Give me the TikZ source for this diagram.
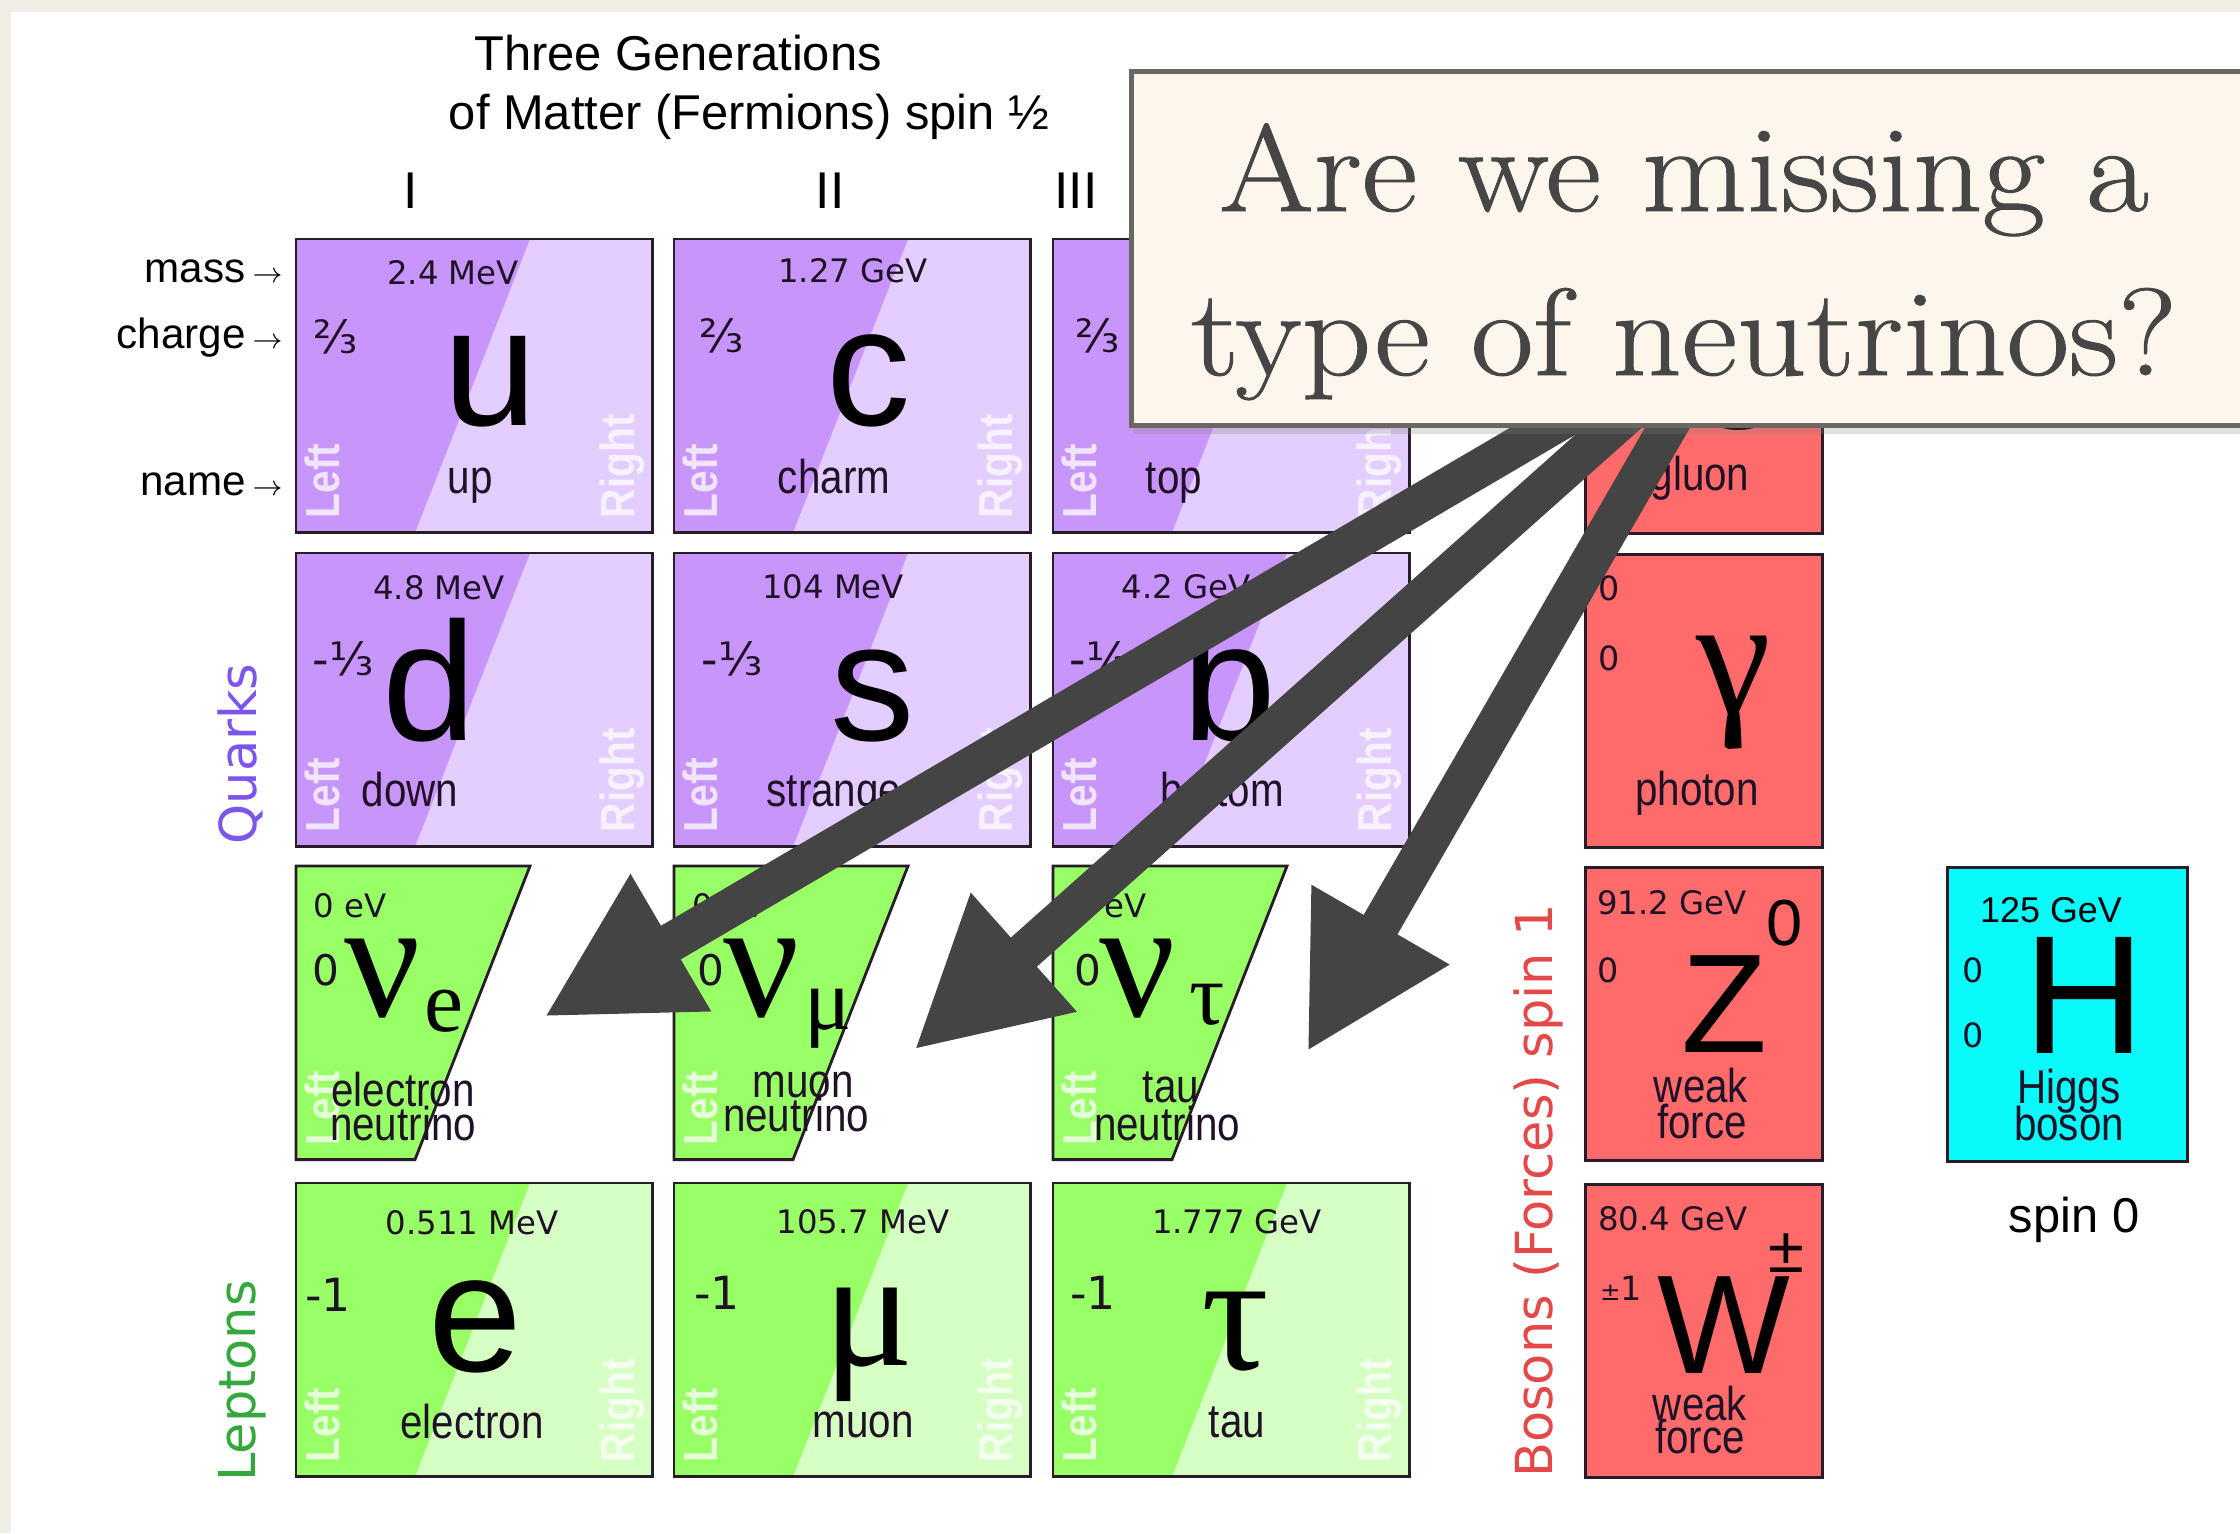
\documentclass[tikz,border=0pt]{standalone}
\usepackage{fontspec}
\setsansfont{Liberation Sans}
\newfontfamily\narrowfont{Liberation Sans}[FakeStretch=0.85]
\newfontfamily\dvfont{DejaVu Sans}
\newfontfamily\greekfont{Liberation Serif}
\newfontfamily\askfont{Latin Modern Roman}[FakeStretch=1.1, FakeBold=0.8]
\usetikzlibrary{arrows.meta,calc,shadows}

\definecolor{pagebg}{RGB}{241,237,231}
\definecolor{quarkD}{RGB}{200,150,250}
\definecolor{quarkL}{RGB}{228,205,255}
\definecolor{leptonD}{RGB}{153,255,102}
\definecolor{leptonL}{RGB}{213,255,195}
\definecolor{bosonF}{RGB}{255,107,107}
\definecolor{higgsF}{RGB}{8,250,250}
\definecolor{cellline}{RGB}{40,28,40}
\definecolor{ink}{RGB}{32,18,38}
\definecolor{quarkT}{RGB}{124,84,238}
\definecolor{leptonT}{RGB}{52,168,60}
\definecolor{bosonT}{RGB}{228,72,72}
\definecolor{arrowgray}{RGB}{68,68,68}
\definecolor{calloutF}{RGB}{252,246,237}
\definecolor{calloutD}{RGB}{106,102,97}
\definecolor{calloutT}{RGB}{70,70,70}

\pgfdeclarelayer{arrowlayer}
\pgfdeclarelayer{toplayer}
\pgfsetlayers{main,arrowlayer,toplayer}

\newcommand{\fsz}[1]{\fontsize{#1}{#1}\selectfont}

\tikzset{
  cellbox/.style={inner sep=0pt, minimum width=3.55cm, minimum height=2.92cm, anchor=north west},
  bosbox/.style={draw=cellline, line width=0.8pt, fill=bosonF, inner sep=0pt,
    minimum width=2.37cm, minimum height=2.93cm, anchor=north west},
  frame/.style={draw=cellline, line width=0.8pt},
  head/.style={text=black, font=\sffamily\fsz{13.9pt}, anchor=base},
  gen/.style={text=black, font=\sffamily\fsz{14.7pt}, anchor=base},
  side/.style={text=black, font=\sffamily\fsz{12pt}, anchor=base east},
  mass/.style={text=ink, font=\dvfont\fsz{9.2pt}},
  charge/.style={text=ink, font=\dvfont\fsz{13pt}},
  zero/.style={text=ink, font=\dvfont\fsz{9.5pt}},
  sym/.style={text=black, font=\sffamily\fsz{48pt}, anchor=base},
  bigsym/.style={text=black, font=\sffamily\fsz{40pt}, anchor=base},
  supsym/.style={text=black, font=\sffamily\fsz{18.5pt}, anchor=base},
  greek/.style={text=black, font=\greekfont\fsz{48pt}, anchor=base},
  gsub/.style={text=black, font=\greekfont\fsz{25pt}, anchor=base},
  pname/.style={text=ink, font=\narrowfont\fsz{13.5pt}, anchor=base},
  hand/.style={text=white, opacity=0.75, font=\narrowfont\bfseries\fsz{13.6pt}, rotate=90, anchor=west},
  grouplab/.style={font=\dvfont\fsz{14.5pt}, rotate=90},
  bigarrow/.style={draw=arrowgray, line width=0.39cm, -{Triangle[length=1.47cm,width=1.48cm]}},
  callout/.style={fill=calloutF, draw=calloutD, line width=1.4pt, inner sep=0pt, anchor=north west,
    minimum width=11.5cm, minimum height=3.54cm,
    drop shadow={opacity=0.25, shadow xshift=0.5pt, shadow yshift=-2.5pt}},
  asktext/.style={text=calloutT, font=\askfont\fsz{35.2pt}, anchor=base},
}

% two-tone fermion cell: name, top left, dark, light
\newcommand{\twotone}[4]{%
  \node[cellbox, fill=#4] (#1) at (#2) {};
  \fill[#3] (#1.north west) -- ++(234,0) -- ($(#1.south west)+(119,0)$) -- (#1.south west) -- cycle;
  \draw[frame] (#1.north west) rectangle (#1.south east);
  \node[hand] (#1-l) at ($(#1.south west)+(26,-2)$) {Left};
  \node[hand] (#1-r) at ($(#1.south east)+(-30,-2)$) {Right};
}
% neutrino cell: left handed part only
\newcommand{\nucell}[2]{%
  \node[cellbox] (#1) at (#2) {};
  \filldraw[frame, fill=leptonD] (#1.north west) -- ++(234,0) -- ($(#1.south west)+(119,0)$) -- (#1.south west) -- cycle;
  \node[hand] (#1-l) at ($(#1.south west)+(26,-2)$) {Left};
}

\begin{document}
\begin{tikzpicture}[x=0.01cm, y=-0.01cm]
    % Page
    \useasboundingbox (0,0) rectangle (2240,1533);
    \fill[pagebg] (0,0) rectangle (2240,1533);
    \fill[white] (11,12) rectangle (2240,1533);
    % Header
    \node[head] (title1) at (678,70) {Three Generations};
    \node[head] (title2) at (749,129) {of Matter (Fermions) spin ½};
    \node[gen] (gen1) at (411,208) {I};
    \node[gen] (gen2) at (830,208) {II};
    \node[gen] (gen3) at (1076,208) {III};
    \node[side] (lab-mass) at (295,282) {mass\,{\fsz{8pt}$\rightarrow$}};
    \node[side] (lab-charge) at (295,348) {charge\,{\fsz{8pt}$\rightarrow$}};
    \node[side] (lab-name) at (295,495) {name\,{\fsz{8pt}$\rightarrow$}};
    % Group labels
    \node[grouplab, text=quarkT] (quarks) at (240,754) {Quarks};
    \node[grouplab, text=leptonT] (leptons) at (242,1381) {Leptons};
    \node[grouplab, text=bosonT] (bosons) at (1538,1191) {Bosons (Forces) spin 1};
    \node[head] (spin0) at (2074,1232) {spin 0};

    % Quarks, row 1
    \twotone{up}{296,239}{quarkD}{quarkL}
    \node[mass] (up-m) at (453,273) {2.4 MeV};
    \node[charge] (up-q) at (336,337) {⅔};
    \node[sym] (up-s) at (490,425) {u};
    \node[pname] (up-n) at (470,493) {up};
    \twotone{charm}{674,239}{quarkD}{quarkL}
    \node[mass] (charm-m) at (853,271) {1.27 GeV};
    \node[charge] (charm-q) at (722,336) {⅔};
    \node[sym] (charm-s) at (869,425) {c};
    \node[pname] (charm-n) at (834,493) {charm};
    \twotone{top}{1053,239}{quarkD}{quarkL}
    \node[charge] (top-q) at (1098,336) {⅔};
    \node[pname] (top-n) at (1174,493) {top};
    % Quarks, row 2
    \twotone{down}{296,553}{quarkD}{quarkL}
    \node[mass] (down-m) at (439,588) {4.8 MeV};
    \node[charge] (down-q) at (343,659) {-⅓};
    \node[sym] (down-s) at (429,740) {d};
    \node[pname] (down-n) at (410,806) {down};
    \twotone{strange}{674,553}{quarkD}{quarkL}
    \node[mass] (strange-m) at (833,587) {104 MeV};
    \node[charge] (strange-q) at (732,659) {-⅓};
    \node[sym] (strange-s) at (873,740) {s};
    \node[pname] (strange-n) at (834,806) {strange};
    \twotone{bottom}{1053,553}{quarkD}{quarkL}
    \node[mass] (bottom-m) at (1186,587) {4.2 GeV};
    \node[charge] (bottom-q) at (1100,659) {-⅓};
    \node[sym] (bottom-s) at (1229,740) {b};
    \node[pname] (bottom-n) at (1222,806) {bottom};

    % Neutrinos
    \nucell{nue}{296,866}
    \node[mass] (nue-m) at (350,906) {0 eV};
    \node[charge, font=\dvfont\fsz{12pt}] (nue-q) at (326,970) {0};
    \node[greek] (nue-s) at (383,1016) {ν};
    \node[gsub] (nue-i) at (444,1031) {e};
    \node[pname] (nue-n1) at (403,1106) {electron};
    \node[pname] (nue-n2) at (403,1140) {neutrino};
    \nucell{numu}{674,866}
    \node[mass] (numu-m) at (729,906) {0 eV};
    \node[charge, font=\dvfont\fsz{12pt}] (numu-q) at (711,970) {0};
    \node[greek] (numu-s) at (762,1016) {ν};
    \node[gsub] (numu-i) at (828,1029) {μ};
    \node[pname] (numu-n1) at (803,1097) {muon};
    \node[pname] (numu-n2) at (796,1131) {neutrino};
    \nucell{nutau}{1053,866}
    \node[mass] (nutau-m) at (1110,906) {0 eV};
    \node[charge, font=\dvfont\fsz{12pt}] (nutau-q) at (1088,970) {0};
    \node[greek] (nutau-s) at (1138,1016) {ν};
    \node[gsub] (nutau-i) at (1207,1024) {τ};
    \node[pname] (nutau-n1) at (1171,1102) {tau};
    \node[pname] (nutau-n2) at (1167,1140) {neutrino};

    % Leptons
    \twotone{elec}{296,1183}{leptonD}{leptonL}
    \node[mass] (elec-m) at (472,1223) {0.511 MeV};
    \node[charge] (elec-q) at (328,1295) {-1};
    \node[sym] (elec-s) at (475,1371) {e};
    \node[pname] (elec-n) at (472,1438) {electron};
    \twotone{muon}{674,1183}{leptonD}{leptonL}
    \node[mass] (muon-m) at (863,1222) {105.7 MeV};
    \node[charge] (muon-q) at (717,1293) {-1};
    \node[greek] (muon-s) at (869,1365) {μ};
    \node[pname] (muon-n) at (863,1437) {muon};
    \twotone{tau}{1053,1183}{leptonD}{leptonL}
    \node[mass] (tau-m) at (1237,1222) {1.777 GeV};
    \node[charge] (tau-q) at (1093,1293) {-1};
    \node[greek] (tau-s) at (1235,1369) {τ};
    \node[pname] (tau-n) at (1237,1437) {tau};

    % Bosons
    \node[bosbox] (gluon) at (1584,239) {};
    \node[sym] (gluon-s) at (1740,395) {g};
    \node[pname] (gluon-n) at (1700,490) {gluon};
    \node[bosbox] (photon) at (1584,553) {};
    \node[zero] (photon-m) at (1609,588) {0};
    \node[zero] (photon-q) at (1609,658) {0};
    \node[greek] (photon-s) at (1734,713) {γ};
    \node[pname] (photon-n) at (1697,805) {photon};
    \node[bosbox] (zbos) at (1584,866) {};
    \node[mass] (zbos-m) at (1672,903) {91.2 GeV};
    \node[zero] (zbos-q) at (1608,970) {0};
    \node[bigsym] (zbos-s) at (1724,1052) {Z};
    \node[supsym] (zbos-u) at (1785,945) {0};
    \node[pname] (zbos-n1) at (1701,1102) {weak};
    \node[pname] (zbos-n2) at (1702,1138) {force};
    \node[bosbox] (wbos) at (1584,1183) {};
    \node[mass] (wbos-m) at (1673,1219) {80.4 GeV};
    \node[zero] (wbos-q) at (1621,1288) {{\fsz{7pt}±}1};
    \node[bigsym] (wbos-s) at (1724,1373) {W};
    \node[supsym, anchor=center] (wbos-u) at (1786,1253) {±};
    \node[pname] (wbos-n1) at (1700,1420) {weak};
    \node[pname] (wbos-n2) at (1700,1453) {force};
    \node[bosbox, fill=higgsF, minimum width=2.40cm, minimum height=2.94cm] (higgs) at (1946,866) {};
    \node[text=black, font=\sffamily\fsz{10.2pt}] (higgs-m) at (2051,910) {125 GeV};
    \node[zero] (higgs-q) at (1973,970) {0};
    \node[zero] (higgs-c) at (1973,1035) {0};
    \node[sym] (higgs-s) at (2084,1053) {H};
    \node[pname] (higgs-n1) at (2069,1103) {Higgs};
    \node[pname] (higgs-n2) at (2069,1140) {boson};

    % Question box
    \begin{pgfonlayer}{toplayer}
    \node[callout] (question) at (1129,69) {};
    \node[asktext] (ask1) at (1684,211) {Are we missing a};
    \node[asktext] (ask2) at (1684,375) {type of neutrinos?};
    \end{pgfonlayer}
    % Arrows
    \coordinate (from1) at (1630,380);
    \coordinate (from2) at (1666,380);
    \coordinate (from3) at (1695,380);
    \coordinate (tip1) at (544,1017);
    \coordinate (tip2) at (914,1050);
    \coordinate (tip3) at (1307,1052);
    \begin{pgfonlayer}{arrowlayer}
    \draw[bigarrow] (from1) -- (tip1);
    \draw[bigarrow] (from2) -- (tip2);
    \draw[bigarrow] (from3) -- (tip3);
    \end{pgfonlayer}
\end{tikzpicture}
\end{document}
